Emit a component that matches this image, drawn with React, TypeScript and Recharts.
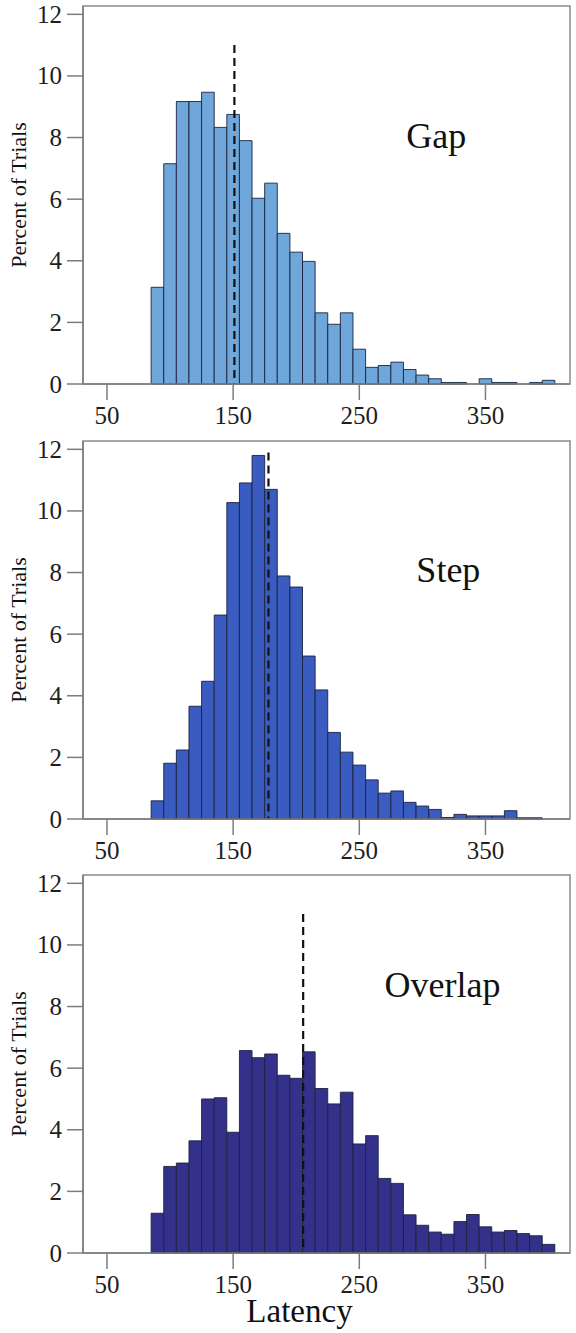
import {
  BarChart,
  Bar,
  XAxis,
  YAxis,
  ReferenceLine,
  ReferenceArea,
  ReferenceDot,
} from "recharts"

// latency bins are 10 ms wide; value = bin centre
const latencyBins = [
  90, 100, 110, 120, 130, 140, 150, 160, 170, 180, 190, 200, 210, 220, 230, 240,
  250, 260, 270, 280, 290, 300, 310, 320, 330, 340, 350, 360, 370, 380, 390, 400,
]

// percent of trials per bin
const gapPercent = [
  3.14, 7.15, 9.17, 9.17, 9.47, 8.33, 8.75, 7.9, 6.03, 6.52, 4.89, 4.28, 3.98, 2.31,
  1.94, 2.31, 1.13, 0.54, 0.6, 0.71, 0.47, 0.29, 0.17, 0.05, 0.05, 0, 0.17, 0.05,
  0.05, 0, 0.05, 0.12,
]
const stepPercent = [
  0.59, 1.81, 2.24, 3.66, 4.47, 6.62, 10.27, 10.91, 11.8, 10.7, 7.89, 7.53, 5.29,
  4.19, 2.81, 2.17, 1.75, 1.27, 0.84, 0.91, 0.54, 0.42, 0.31, 0.05, 0.15, 0.1, 0.1,
  0.1, 0.27, 0.04, 0.04,
]
const overlapPercent = [
  1.29, 2.81, 2.92, 3.64, 5.0, 5.04, 3.92, 6.57, 6.34, 6.46, 5.77, 5.67, 6.53, 5.34,
  4.84, 5.22, 3.54, 3.81, 2.42, 2.26, 1.24, 0.9, 0.68, 0.61, 1.02, 1.25, 0.85, 0.68,
  0.73, 0.63, 0.56, 0.28,
]

// dashed marker (central latency) per condition and its height
const markerLatency = [151, 178, 205.5]
const markerTop = [11, 11.9, 11]

const xTicks = [50, 150, 250, 350]
const yTicks = [0, 2, 4, 6, 8, 10, 12]

const X_DOMAIN: [number, number] = [31, 417]
const Y_MAX = 12.27
const FONT = "Liberation Serif, Times New Roman, serif"
const INK = "#1e1e1e"

function XTick(props: any) {
  const { x, y, payload } = props
  return (
    <text x={x} y={y} dy="0.71em" textAnchor="middle" fill={INK} fontSize={25} fontFamily={FONT}>
      {payload.value}
    </text>
  )
}

function YTick(props: any) {
  const { x, y, payload } = props
  return (
    <text x={x} y={y} dy="0.34em" textAnchor="end" fill={INK} fontSize={25} fontFamily={FONT}>
      {payload.value}
    </text>
  )
}

function YTitle(props: any) {
  const { x, y, height } = props.viewBox
  return (
    <text
      transform={`translate(${x + 18},${y + height / 2}) rotate(-90)`}
      dy="0.35em"
      textAnchor="middle"
      fill="#111"
      fontSize={22}
      fontFamily={FONT}
    >
      Percent of Trials
    </text>
  )
}

function XTitle(props: any) {
  const { x, y, width, height } = props.viewBox
  return (
    <text
      x={x + width / 2 - 27}
      y={y + height - 11}
      textAnchor="middle"
      fill="#111"
      fontSize={33}
      fontFamily={FONT}
    >
      Latency
    </text>
  )
}

interface PanelProps {
  title: string
  values: number[]
  fill: string
  marker: number
  top: number
  markerHeight: number
  offsetTop: number
  titleAt: { x: number; y: number }
  showLatency?: boolean
}

function Panel({
  title,
  values,
  fill,
  marker,
  markerHeight,
  top,
  offsetTop,
  titleAt,
  showLatency,
}: PanelProps) {
  const data = values.map((v, i) => ({ latency: latencyBins[i], pct: v }))
  const axisH = showLatency ? 80 : 50
  const height = offsetTop + 378 + axisH

  return (
    <div style={{ position: "absolute", left: 0, top }}>
      <BarChart
        width={576}
        height={height}
        data={data}
        margin={{ top: offsetTop, right: 6, bottom: 0, left: 0 }}
        barCategoryGap={0}
        barGap={0}
      >
        <XAxis
          dataKey="latency"
          type="number"
          domain={X_DOMAIN}
          ticks={xTicks}
          tickCount={40}
          allowDecimals={false}
          height={axisH}
          tickSize={16}
          tickMargin={6}
          stroke="#7d7d7d"
          strokeWidth={1.5}
          tick={<XTick />}
          label={showLatency ? <XTitle /> : undefined}
        />
        <YAxis
          type="number"
          domain={[0, Y_MAX]}
          ticks={yTicks}
          width={83}
          tickSize={16}
          tickMargin={5}
          stroke="#7d7d7d"
          strokeWidth={1.5}
          tick={<YTick />}
          label={<YTitle />}
        />
        <ReferenceArea
          y1={0}
          y2={Y_MAX}
          fill="none"
          stroke="#8a8a8a"
          strokeWidth={1.5}
          ifOverflow="extendDomain"
        />
        <Bar
          dataKey="pct"
          fill={fill}
          stroke="#1b2340"
          strokeWidth={0.9}
          barSize={12.6}
          isAnimationActive={false}
        />
        <ReferenceLine
          segment={[
            { x: marker, y: markerHeight },
            { x: marker, y: 0 },
          ]}
          stroke="#111"
          strokeWidth={2.2}
          strokeDasharray="8 5"
        />
        <ReferenceDot
          x={titleAt.x}
          y={titleAt.y}
          r={0}
          fill="none"
          stroke="none"
          label={{
            value: title,
            position: "center",
            fontSize: 36,
            fill: "#111",
            fontFamily: FONT,
          }}
        />
      </BarChart>
    </div>
  )
}

export default function App() {
  return (
    <div
      style={{
        position: "absolute",
        left: 0,
        top: 0,
        width: 576,
        height: 1333,
        background: "#fff",
      }}
    >
      <Panel
        title="Gap"
        values={gapPercent}
        fill="#6fa7da"
        marker={markerLatency[0]}
        markerHeight={markerTop[0]}
        top={0}
        offsetTop={6}
        titleAt={{ x: 311, y: 8.07 }}
      />
      <Panel
        title="Step"
        values={stepPercent}
        fill="#3a5bbf"
        marker={markerLatency[1]}
        markerHeight={markerTop[1]}
        top={434}
        offsetTop={7}
        titleAt={{ x: 320.6, y: 8.11 }}
      />
      <Panel
        title="Overlap"
        values={overlapPercent}
        fill="#34318b"
        marker={markerLatency[2]}
        markerHeight={markerTop[2]}
        top={868}
        offsetTop={7}
        titleAt={{ x: 316, y: 8.71 }}
        showLatency
      />
    </div>
  )
}
